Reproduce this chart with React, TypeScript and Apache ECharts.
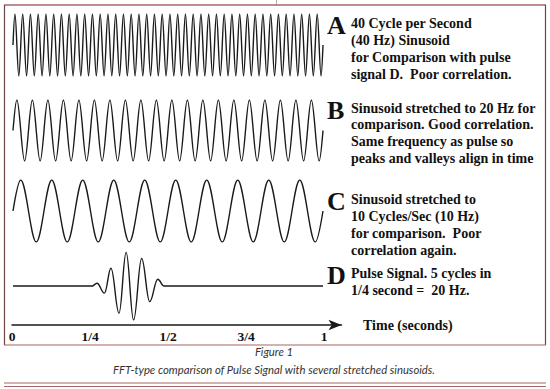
import React, { useEffect, useRef } from "react";
import * as echarts from "echarts";

// ---- data ----
const waveLetters = ["A", "B", "C"];
const waveFrequencies = [40, 20, 10]; // Hz, as printed in the notes
const pulseTimes = [0, 0.255, 0.271, 0.295, 0.316, 0.342, 0.365, 0.389, 0.415, 0.441, 0.467, 0.487, 1];
const pulseValues = [0, 0, 0.08, -0.21, 0.52, -0.8, 0.99, -1, 0.81, -0.46, 0.2, 0, 0];
const timeTicks = [0, 0.25, 0.5, 0.75, 1];
const timeTickLabels = ["0", "1/4", "1/2", "3/4", "1"];
const axisTitle = "Time (seconds)";

const noteA = ["40 Cycle per Second", "(40 Hz) Sinusoid", "for Comparison with pulse", "signal D.\u00a0 Poor correlation."];
const noteB = ["Sinusoid stretched to 20 Hz for", "comparison. Good correlation.", "Same frequency as pulse so", "peaks and valleys align in time"];
const noteC = ["Sinusoid stretched to", "10 Cycles/Sec (10 Hz)", "for comparison.\u00a0 Poor", "correlation again."];
const noteD = ["Pulse Signal. 5 cycles in", "1/4 second =\u00a0 20 Hz."];
const figureTitle = "Figure 1";
const figureCaption = "FFT-type comparison of Pulse Signal with several stretched sinusoids.";

// sinusoid drawn through its peaks and valleys (one every half cycle)
function sinusoidPoints(freq: number): number[][] {
  const pts: number[][] = [[0, 0]];
  for (let k = 0; k < 2 * freq; k++) {
    pts.push([(2 * k + 1) / (4 * freq), k % 2 === 0 ? 1 : -1]);
  }
  pts.push([1, 0]);
  return pts;
}

const SERIF = '"Liberation Serif", "Times New Roman", serif';
const INK = "#1a1a1a";
const ROSE = "#a86666";

export default function App() {
  const ref = useRef<HTMLDivElement>(null);

  useEffect(() => {
    if (!ref.current) return;
    const chart = echarts.init(ref.current, null, { renderer: "svg" });

    const panels = [
      { top: 14, height: 62 },
      { top: 100, height: 61 },
      { top: 180, height: 62 },
      { top: 252, height: 68 },
    ];
    const grids: any[] = panels.map((p) => ({ left: 13, width: 310, top: p.top, height: p.height, containLabel: false }));
    // time axis grid: 0 at x=12, 1 at x=324
    const unitPx = 312;
    const axisWidth = 329.5;
    grids.push({ left: 12, width: axisWidth, top: 300, height: 25, containLabel: false });

    const xAxes: any[] = panels.map((_, i) => ({ type: "value", gridIndex: i, min: 0, max: 1, show: false }));
    const yAxes: any[] = panels.map((_, i) => ({ type: "value", gridIndex: i, min: -1, max: 1, show: false }));
    xAxes.push({
      type: "value",
      gridIndex: 4,
      min: 0,
      max: axisWidth / unitPx,
      interval: 0.25,
      axisLine: {
        show: true,
        symbol: ["none", "arrow"],
        symbolSize: [8, 13],
        lineStyle: { color: INK, width: 1.5 },
      },
      axisTick: { show: false },
      splitLine: { show: false },
      axisLabel: {
        margin: 4,
        color: "#111",
        fontFamily: SERIF,
        fontWeight: "bold",
        fontSize: 13.5,
        showMaxLabel: false,
        formatter: (v: number) => {
          const i = timeTicks.findIndex((t) => Math.abs(t - v) < 1e-6);
          return i >= 0 ? timeTickLabels[i] : "";
        },
      },
      name: axisTitle,
      nameLocation: "end",
      nameGap: 21.5,
      nameTextStyle: { color: "#111", fontFamily: SERIF, fontWeight: "bold", fontSize: 14, verticalAlign: "middle" },
    });
    yAxes.push({ type: "value", gridIndex: 4, min: 0, max: 1, show: false });

    const series: any[] = waveFrequencies.map((f, i) => ({
      name: waveLetters[i],
      type: "line",
      xAxisIndex: i,
      yAxisIndex: i,
      data: sinusoidPoints(f),
      showSymbol: false,
      smooth: 0.35,
      lineStyle: { color: INK, width: 1.4 },
      silent: true,
    }));
    series.push({
      name: "D",
      type: "line",
      xAxisIndex: 3,
      yAxisIndex: 3,
      data: pulseTimes.map((t, i) => [t, pulseValues[i]]),
      showSymbol: false,
      smooth: 0.4,
      smoothMonotone: "x",
      lineStyle: { color: INK, width: 1.4 },
      silent: true,
    });

    const letter = (txt: string, y: number) => ({
      type: "text",
      x: 327,
      y,
      silent: true,
      style: { text: txt, fill: "#111", font: `bold 26px ${SERIF}`, align: "left", verticalAlign: "middle" },
    });
    const block = (lines: string[], ys: number[]) =>
      lines.map((t, i) => ({
        type: "text",
        x: 351,
        y: ys[i],
        silent: true,
        style: { text: t, fill: "#111", font: `bold 14px ${SERIF}`, align: "left", verticalAlign: "middle" },
      }));
    const hline = (x1: number, x2: number, y: number, color: string, w: number) => ({
      type: "line",
      silent: true,
      shape: { x1, y1: y, x2, y2: y },
      style: { stroke: color, lineWidth: w },
    });
    const vline = (x: number, y1: number, y2: number, color: string, w: number) => ({
      type: "line",
      silent: true,
      shape: { x1: x, y1, x2: x, y2 },
      style: { stroke: color, lineWidth: w },
    });

    const graphic: any[] = [
      vline(276.5, 0, 5, "#b0b0b0", 1),
      hline(4, 546, 5, ROSE, 1.5),
      vline(4.5, 5, 345, "#6e4545", 1.2),
      vline(545.5, 5, 345, "#7a4040", 1.2),
      hline(4, 546, 345, ROSE, 1.2),
      hline(4, 546, 383, ROSE, 1),
      hline(4, 546, 386.5, ROSE, 1),
      letter("A", 25),
      letter("B", 110),
      letter("C", 201),
      letter("D", 275),
      ...block(noteA, [23, 40, 57, 74]),
      ...block(noteB, [108, 124.5, 141, 158]),
      ...block(noteC, [199, 216, 233, 250]),
      ...block(noteD, [273, 290]),
      {
        type: "text",
        x: 274,
        y: 351,
        silent: true,
        style: { text: figureTitle, fill: "#333", font: 'italic 11.3px Lato, "Open Sans", sans-serif', align: "center", verticalAlign: "middle" },
      },
      {
        type: "text",
        x: 274,
        y: 369.5,
        silent: true,
        style: { text: figureCaption, fill: "#333", font: 'italic 11.3px Lato, "Open Sans", sans-serif', align: "center", verticalAlign: "middle" },
      },
    ];

    chart.setOption({
      animation: false,
      backgroundColor: "#ffffff",
      grid: grids,
      xAxis: xAxes,
      yAxis: yAxes,
      series,
      graphic,
    });

    return () => chart.dispose();
  }, []);

  return (
    <div
      ref={ref}
      style={{ position: "absolute", left: 0, top: 0, width: 550, height: 389, background: "#fff" }}
    />
  );
}
